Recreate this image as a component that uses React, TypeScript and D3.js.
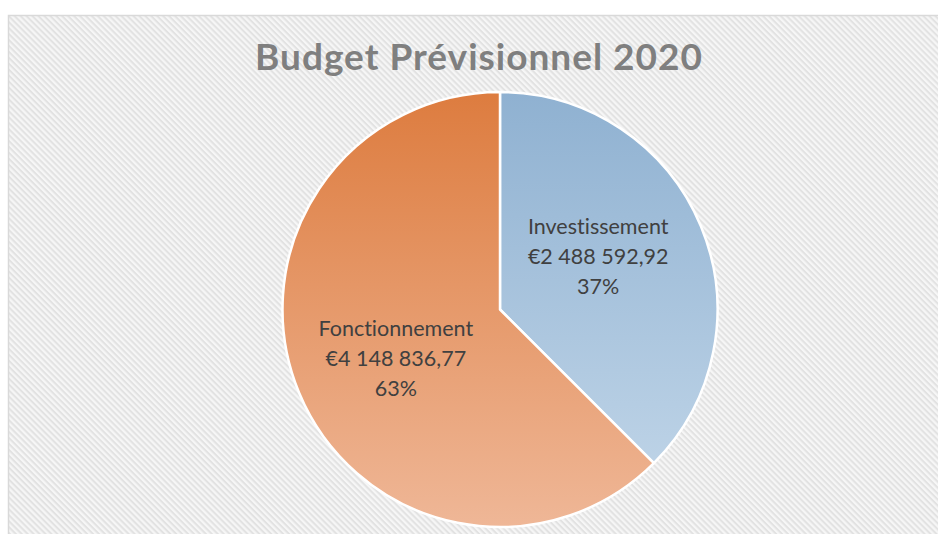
import React, { useEffect, useRef } from 'react';
import * as d3 from 'd3';

const categories = ['Investissement', 'Fonctionnement'];
const values = [2488592.92, 4148836.77];
const title = 'Budget Prévisionnel 2020';

// gradient stops (top, bottom) per slice
const sliceColors: [string, string][] = [
  ['#8fb1d1', '#c4d8ea'],
  ['#dd7c3f', '#efb797'],
];

const W = 938;
const H = 534;

const locale = d3.formatLocale({
  decimal: ',',
  thousands: '\u00a0',
  grouping: [3],
  currency: ['€', ''],
});
const fmtMoney = locale.format('$,.2f');
const fmtPct = d3.format('.0%');

export default function App() {
  const svgRef = useRef<SVGSVGElement>(null);

  useEffect(() => {
    if (!svgRef.current) return;
    const svg = d3.select(svgRef.current);
    svg.selectAll('*').remove();

    const defs = svg.append('defs');

    // diagonal hatch background
    const pat = defs.append('pattern')
      .attr('id', 'hatch')
      .attr('patternUnits', 'userSpaceOnUse')
      .attr('width', 4)
      .attr('height', 4.2)
      .attr('patternTransform', 'rotate(45)');
    pat.append('rect').attr('width', 4).attr('height', 4.2).attr('fill', '#f6f6f6');
    pat.append('rect').attr('width', 4).attr('height', 2).attr('fill', '#e2e2e2');

    const cx = 500;
    const cy = 309.5;
    const R = 217.5;

    sliceColors.forEach((c, i) => {
      const g = defs.append('linearGradient')
        .attr('id', `grad${i}`)
        .attr('gradientUnits', 'userSpaceOnUse')
        .attr('x1', 0).attr('x2', 0)
        .attr('y1', -R).attr('y2', R);
      g.append('stop').attr('offset', '0%').attr('stop-color', c[0]);
      g.append('stop').attr('offset', '100%').attr('stop-color', c[1]);
    });

    // chart area
    svg.append('rect')
      .attr('x', 8.5)
      .attr('y', 15.5)
      .attr('width', 980)
      .attr('height', 560)
      .attr('fill', 'url(#hatch)')
      .attr('stroke', '#d9d9d9')
      .attr('stroke-width', 1.5);

    svg.append('text')
      .attr('x', 479)
      .attr('y', 70)
      .attr('text-anchor', 'middle')
      .attr('font-family', 'Lato, sans-serif')
      .attr('font-weight', 'bold')
      .attr('font-size', 37)
      .attr('letter-spacing', 1)
      .attr('fill', '#7f7f7f')
      .text(title);

    const total = d3.sum(values);
    const pie = d3.pie<number>().sort(null).value(d => d);
    const arcs = pie(values);
    const arc = d3.arc<d3.PieArcDatum<number>>().innerRadius(0).outerRadius(R);

    const g = svg.append('g').attr('transform', `translate(${cx},${cy})`);

    g.selectAll('path.slice')
      .data(arcs)
      .join('path')
      .attr('class', 'slice')
      .attr('d', arc)
      .attr('fill', (_, i) => `url(#grad${i})`)
      .attr('stroke', '#ffffff')
      .attr('stroke-width', 2.5)
      .attr('stroke-linejoin', 'round');

    const lbl = g.selectAll('text.lbl')
      .data(arcs)
      .join('text')
      .attr('class', 'lbl')
      .attr('transform', d => {
        const [x, y] = d3.pointRadial((d.startAngle + d.endAngle) / 2 - 0.07, R * 0.52);
        return `translate(${x - 3},${y - 2})`;
      })
      .attr('text-anchor', 'middle')
      .attr('font-family', 'Lato, sans-serif')
      .attr('font-size', 21.5)
      .style('font-variant-ligatures', 'none')
      .attr('fill', '#404040');

    lbl.each(function (d, i) {
      const t = d3.select(this);
      const lines = [categories[i], fmtMoney(values[i]), fmtPct(values[i] / total)];
      lines.forEach((s, k) => {
        t.append('tspan')
          .attr('x', 0)
          .attr('y', (k - 1) * 30 + 7.5)
          .text(s);
      });
    });
  }, []);

  return (
    <svg
      ref={svgRef}
      width={W}
      height={H}
      style={{ position: 'absolute', left: 0, top: 0, background: '#ffffff' }}
    />
  );
}
